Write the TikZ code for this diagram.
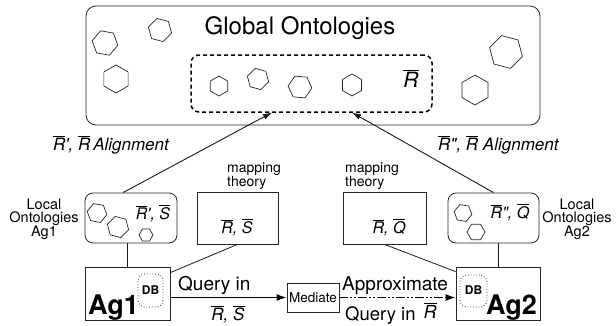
\documentclass[tikz,border=0pt]{standalone}
\usepackage{fontspec}
\setmainfont{TeX Gyre Heros}
\usetikzlibrary{arrows.meta}
\newcommand{\ovl}[1]{$\overline{\hbox{#1}}$}
\newcommand{\hexg}[4]{\draw[hexline] (#1,#2) ++(#4:#3) -- ++(#4+120:#3) -- ++(#4+180:#3) -- ++(#4+240:#3) -- ++(#4+300:#3) -- ++(#4+360:#3) -- cycle;}
\tikzset{
  hexline/.style={draw=black!85, line width=0.7pt},
  boxs/.style={draw=black!85, line width=0.8pt, inner sep=0pt, minimum width=#1},
  bh/.style={minimum height=#1},
  rnd/.style={rounded corners=8pt},
  txt/.style={inner sep=0pt, text=black},
  fs/.style={font=\fontsize{#1}{#1}\selectfont},
  fsi/.style={font=\fontsize{#1}{#1}\selectfont\itshape},
  fsb/.style={font=\fontsize{#1}{#1}\selectfont\bfseries},
  conn/.style={draw=black!90, line width=0.8pt},
  arr/.style={draw=black!90, line width=0.9pt, -{Latex[length=9pt,width=6pt]}},
  qarr/.style={draw=black, line width=1.5pt, -{Latex[length=10pt,width=7pt]}},
  dbbox/.style={draw=black!85, dotted, line width=0.8pt, rounded corners=7pt, inner sep=0pt},
}
\begin{document}
\begin{tikzpicture}[x=1pt,y=-1pt]
\useasboundingbox (0,0) rectangle (616,325);
% global ontologies
\node[boxs=454, bh=119, rounded corners=10pt] (glob) at (313,65.5) {};
\node[txt, fs=24, anchor=base] (title) at (300,34) {Global Ontologies};
\node[draw=black, dashed, line width=1.5pt, dash pattern=on 4pt off 3pt, rounded corners=8pt,
      minimum width=241, minimum height=57, inner sep=0pt] (dash) at (311.5,83.5) {};
\node[txt, fsi=21, anchor=base] (rb) at (411,87) {\ovl{R}};
\hexg{105}{43}{13}{70}
\hexg{160}{30}{12}{15}
\hexg{116}{79}{14}{90}
\hexg{219}{86}{10}{90}
\hexg{258}{79}{11}{15}
\hexg{300}{87}{12}{5}
\hexg{352}{85}{11}{90}
\hexg{506}{52}{17}{15}
\hexg{475}{90}{15}{90}
\coordinate (in1) at (272,112.5);
\coordinate (in2) at (352,112.5);
% alignment labels
\node[txt, fsi=17, anchor=base west] (al1) at (53,150) {\ovl{R}\textquotesingle, \ovl{R}\,Alignment};
\node[txt, fsi=17, anchor=base west] (al2) at (438,150) {\ovl{R}\textquotedbl, \ovl{R} Alignment};
% local ontologies Ag1
\node[boxs=92, bh=50, rnd] (lag1) at (131,218) {};
\hexg{97}{213}{10}{10}
\hexg{118}{227}{11}{15}
\hexg{146}{235}{7}{0}
\node[txt, fsi=16, anchor=base] (l1t) at (153,219) {\ovl{R}\textquotesingle, \ovl{S}};
\node[txt, fs=14.5, align=center] (l1lab) at (44,219) {Local\\[-1pt]Ontologies\\[-1pt]Ag1};
% local ontologies Ag2
\node[boxs=91, bh=50, rnd] (lag2) at (493.5,218) {};
\hexg{463}{213}{9}{10}
\hexg{476}{232}{9}{0}
\node[txt, fsi=16, anchor=base] (l2t) at (510,218) {\ovl{R}\textquotedbl, \ovl{Q}};
\node[txt, fs=14.5, align=center] (l2lab) at (577,219) {Local\\[-1pt]Ontologies\\[-1pt]Ag2};
% mapping theories
\node[boxs=81, bh=52] (mp1) at (237.5,218) {};
\node[txt, fsi=16, anchor=base] (mp1t) at (237,233) {\ovl{R}, \ovl{S}};
\node[txt, fs=14, anchor=base west] (mp1a) at (227,172) {mapping};
\node[txt, fs=14, anchor=base west] (mp1b) at (227,186) {theory};
\node[boxs=83, bh=52] (mp2) at (384.5,218) {};
\node[txt, fsi=16, anchor=base] (mp2t) at (389,233) {\ovl{R}, \ovl{Q}};
\node[txt, fs=14, anchor=base west] (mp2a) at (345,172) {mapping};
\node[txt, fs=14, anchor=base west] (mp2b) at (345,186) {theory};
% agents
\node[boxs=85, bh=53] (ag1) at (127.5,293.5) {};
\node[txt, fsb=27, anchor=base west] (ag1t) at (88,314) {Ag1};
\node[dbbox, minimum width=25, minimum height=33] (db1) at (150.5,290.5) {};
\node[txt, fsb=12] (db1t) at (150.5,290) {DB};
\node[boxs=84, bh=53] (ag2) at (498,293.5) {};
\node[txt, fsb=27, anchor=base east] (ag2t) at (537,314) {Ag2};
\node[dbbox, minimum width=27, minimum height=32] (db2) at (473.5,291) {};
\node[txt, fsb=12] (db2t) at (473.5,290.5) {DB};
\node[boxs=52, bh=29] (med) at (313,297.5) {};
\node[txt, fs=13.5] (medt) at (313,297.5) {Mediate};
% connectors
\draw[arr] ([xshift=-8pt]lag1.north) -- (in1);
\draw[arr] (lag2.north) -- (in2);
\draw[conn] (ag1.north) -- (ag1.north |- lag1.south);
\draw[conn] (ag2.north) -- (ag2.north |- lag2.south);
\draw[conn] (mp1.south) -- ([yshift=-6pt]ag1.north east);
\draw[conn] (mp2.south) -- ([yshift=-5pt]ag2.north west);
\draw[qarr] (med.west -| ag1.east) -- (med.west);
\draw[qarr, dash pattern=on 9pt off 2pt on 2pt off 2pt on 2pt off 2pt] (med.east) -- (med.east -| ag2.west);
% query labels
\node[txt, fs=19, anchor=base west] (q1) at (178,290) {Query in};
\node[txt, fsi=17, anchor=base] (q1r) at (228,320) {\ovl{R}, \ovl{S}};
\node[txt, fs=19, anchor=base west] (ap) at (342,290) {Approximate};
\node[txt, fs=18.5, anchor=base west] (q2) at (345,320.5) {Query in};
\node[txt, fsi=18, anchor=base] (q2r) at (430,318) {\ovl{R}};
\end{tikzpicture}
\end{document}
